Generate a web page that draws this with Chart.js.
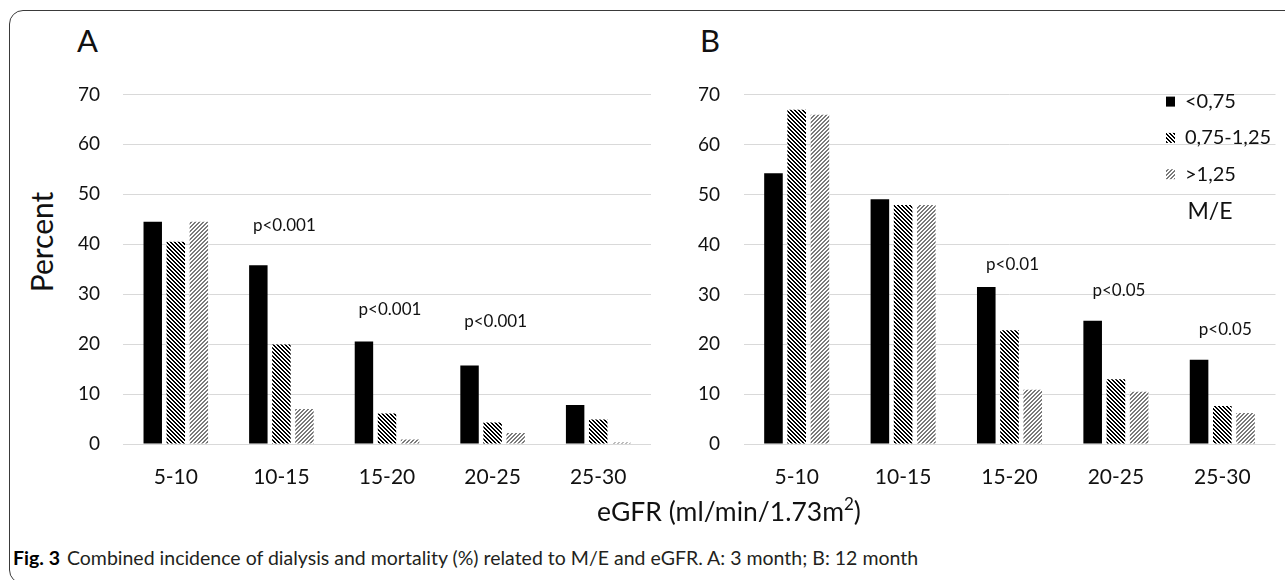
<!DOCTYPE html>
<html>
<head>
<meta charset="utf-8">
<script src="https://cdn.jsdelivr.net/npm/chart.js@4.4.0/dist/chart.umd.min.js"></script>
<style>
  body { margin: 0; background: #fff; width: 1285px; height: 580px; overflow: hidden; position: relative; font-family: Lato, sans-serif; color: #111; }
  #frame { position: absolute; left: 9px; top: 10px; width: 1300px; height: 572px; border: 1px solid #3a3a3a; border-radius: 14px; }
  .wrap { position: absolute; }
  #wrapA { left: 0; top: 60px; width: 660px; height: 440px; }
  #wrapB { left: 640px; top: 60px; width: 645px; height: 440px; }
  .panel { position: absolute; font-size: 31px; line-height: 31px; }
  #ylab { position: absolute; left: 41px; top: 242px; font-size: 30px; line-height: 30px; transform: translate(-50%, -50%) rotate(-90deg); white-space: nowrap; }
  #xlab { position: absolute; left: 729px; top: 511px; font-size: 26.5px; line-height: 30px; transform: translate(-50%, -50%); white-space: nowrap; }
  #xlab sup { font-size: 17px; line-height: 0; vertical-align: 11px; }
  #caption { position: absolute; left: 13px; top: 547px; font-size: 19.5px; line-height: 22px; color: #231f20; white-space: nowrap; }
  #caption b { color: #000; margin-right: 7px; }
</style>
</head>
<body>
<div id="frame"></div>
<div class="panel" style="left:77px;top:25px;">A</div>
<div class="panel" style="left:700px;top:25px;">B</div>
<div id="ylab">Percent</div>
<div class="wrap" id="wrapA"><canvas id="chartA"></canvas></div>
<div class="wrap" id="wrapB"><canvas id="chartB"></canvas></div>
<div id="xlab">eGFR (ml/min/1.73m<sup>2</sup>)</div>
<div id="caption"><b>Fig. 3</b>Combined incidence of dialysis and mortality (%) related to M/E and eGFR. A: 3 month; B: 12 month</div>

<script>
// categories and series (M/E groups)
const categories = ["5-10", "10-15", "15-20", "20-25", "25-30"];
const seriesNames = ["<0,75", "0,75-1,25", ">1,25"];

// A: 3 month
const lowA = [44.5, 35.8, 20.5, 15.7, 7.8];
const midA = [40.5, 19.9, 6.1, 4.3, 4.9];
const highA = [44.5, 7.0, 0.9, 2.2, 0.3];

// B: 12 month
const lowB = [54.3, 49.1, 31.5, 24.7, 16.9];
const midB = [67.0, 47.9, 22.8, 13.0, 7.6];
const highB = [66.0, 47.9, 10.9, 10.5, 6.2];

const yTicks = [0, 10, 20, 30, 40, 50, 60, 70];

// p-value notes, text and height (percent) per category
const notesA = ["", "p<0.001", "p<0.001", "p<0.001", ""];
const notesAy = [null, 43.7, 26.9, 24.6, null];
const notesB = ["", "", "p<0.01", "p<0.05", "p<0.05"];
const notesBy = [null, null, 36.0, 30.8, 23.0];

Chart.defaults.font.family = "Lato";
Chart.defaults.color = "#111";

// striped fills
const stripes = (color, dir) => {
  const s = 4;
  const c = document.createElement("canvas");
  c.width = s; c.height = s;
  const g = c.getContext("2d");
  g.fillStyle = "#fff";
  g.fillRect(0, 0, s, s);
  g.fillStyle = color;
  for (let x = 0; x < s; x++) {
    for (let y = 0; y < s; y++) {
      let k = dir == "\\" ? (x - y + s * 2) % s : (x + y) % s;
      if (k < 2) g.fillRect(x, y, 1, 1);
    }
  }
  return g.createPattern(c, "repeat");
};

const pNotes = {
  id: "pNotes",
  afterDatasetsDraw(chart, args, opts) {
    const { ctx } = chart;
    const x = chart.scales.x, y = chart.scales.y;
    ctx.save();
    ctx.font = "17px Lato";
    ctx.fillStyle = "#111";
    ctx.textAlign = "center";
    ctx.textBaseline = "middle";
    opts.text.forEach((t, i) => {
      if (!t) return;
      ctx.fillText(t, x.getPixelForValue(i) + 3, y.getPixelForValue(opts.level[i]));
    });
    ctx.restore();
  },
};

const meLegend = {
  id: "meLegend",
  afterDraw(chart, args, opts) {
    if (!opts.show) return;
    const { ctx, chartArea } = chart;
    const bx = chartArea.right - 109.5;
    ctx.save();
    ctx.font = "20px Lato";
    ctx.textBaseline = "middle";
    ctx.textAlign = "left";
    chart.data.datasets.forEach((ds, i) => {
      const cy = chartArea.top + 6.7 + i * 36.3;
      ctx.fillStyle = ds.backgroundColor;
      ctx.fillRect(bx, cy - 5, 9, 10);
      ctx.fillStyle = "#111";
      ctx.fillText(ds.label, bx + 19, cy);
    });
    ctx.font = "23px Lato";
    ctx.textAlign = "center";
    ctx.fillText("M/E", bx + 44, chartArea.top + 116.7);
    ctx.restore();
  },
};

const build = () => {
  const fills = ["#000", stripes("#000", "\\"), stripes("#7a7a7a", "/")];

  const makeChart = (id, sets, notes, notesY, yWidth, tickPad, padRight, legend) => {
    return new Chart(document.getElementById(id), {
      type: "bar",
      data: {
        labels: categories,
        datasets: sets.map((d, i) => ({
          label: seriesNames[i],
          data: d,
          backgroundColor: fills[i],
          borderWidth: 0,
          categoryPercentage: 0.655,
          barPercentage: 0.8,
        })),
      },
      options: {
        responsive: true,
        maintainAspectRatio: false,
        animation: false,
        layout: { padding: { top: 30, right: padRight, left: 0, bottom: 0 } },
        plugins: {
          legend: { display: false },
          tooltip: { enabled: false },
          pNotes: { text: notes, level: notesY },
          meLegend: { show: legend },
        },
        scales: {
          x: {
            grid: { display: false, drawTicks: false },
            border: { display: false },
            ticks: { font: { size: 21 }, color: "#111", padding: 21 },
            afterFit: (s) => { s.height = 56; },
          },
          y: {
            min: 0,
            max: 70,
            afterBuildTicks: (s) => { s.ticks = yTicks.map((v) => ({ value: v })); },
            grid: { color: "#d9d9d9", lineWidth: 1, drawTicks: false },
            border: { display: false },
            ticks: { font: { size: 19 }, color: "#111", padding: tickPad },
            afterFit: (s) => { s.width = yWidth; },
          },
        },
      },
      plugins: [pNotes, meLegend],
    });
  };

  makeChart("chartA", [lowA, midA, highA], notesA, notesAy, 123, 23, 9, false);
  makeChart("chartB", [lowB, midB, highB], notesB, notesBy, 103.5, 23.5, 9.5, true);
};

Promise.all([
  document.fonts.load("20px Lato"),
  document.fonts.load("bold 16px Lato"),
]).then(build, build);
</script>
</body>
</html>
